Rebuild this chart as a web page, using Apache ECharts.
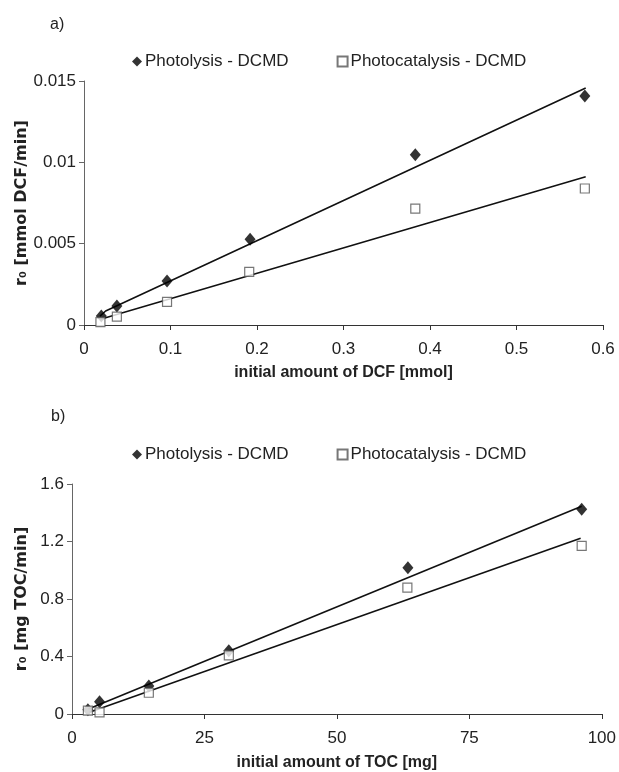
<!DOCTYPE html>
<html>
<head>
<meta charset="utf-8">
<title>r0 vs initial amount</title>
<script src="https://cdn.jsdelivr.net/npm/echarts@6/dist/echarts.min.js"></script>
<style>
  html, body { margin: 0; padding: 0; background: #fff; }
  #chart { width: 619px; height: 772px; }
</style>
</head>
<body>
<div id="chart"></div>
<script>
// ---- panel a) DCF [mmol] vs r0 [mmol DCF/min]
const dcfPhotolysis = [[0.020, 0.00055], [0.038, 0.00117], [0.096, 0.00271], [0.192, 0.00527], [0.383, 0.01047], [0.579, 0.01408]];
const dcfCatalysis = [[0.019, 0.00018], [0.038, 0.00051], [0.096, 0.00142], [0.191, 0.00326], [0.383, 0.00716], [0.579, 0.00839]];
const dcfTrendPhotolysis = [[0.0185, 0.00055], [0.025, 0.00086], [0.58, 0.01457]];
const dcfTrendCatalysis = [[0.0185, 0.00030], [0.025, 0.00045], [0.58, 0.00911]];

// ---- panel b) TOC [mg] vs r0 [mg TOC/min]
const tocPhotolysis = [[3.0, 0.03], [5.2, 0.086], [14.5, 0.195], [29.6, 0.44], [63.4, 1.018], [96.2, 1.424]];
const tocCatalysis = [[3.0, 0.023], [5.2, 0.012], [14.5, 0.148], [29.6, 0.408], [63.3, 0.879], [96.2, 1.169]];
const tocTrendPhotolysis = [[3.1, 0.035], [96.2, 1.445]];
const tocTrendCatalysis = [[3.3, 0.012], [96.0, 1.222]];

const seriesNames = ['Photolysis - DCMD', 'Photocatalysis - DCMD'];

const FONT = 'Liberation Sans, Arial, sans-serif';
const textColor = '#222';

function xAxisCfg(grid, name, max, interval, gap) {
  return {
    gridIndex: grid, type: 'value', min: 0, max: max, interval: interval,
    name: name, nameLocation: 'middle', nameGap: gap,
    nameTextStyle: { fontFamily: FONT, fontSize: 16, fontWeight: 'bold', color: textColor },
    axisLine: { onZero: false, lineStyle: { color: '#333', width: 1 } },
    axisTick: { show: true, length: 5, lineStyle: { color: '#333' } },
    axisLabel: { fontFamily: FONT, fontSize: 17, color: textColor, margin: 16 },
    splitLine: { show: false }
  };
}

function yAxisCfg(grid, name, max, interval, gap) {
  return {
    gridIndex: grid, type: 'value', min: 0, max: max, interval: interval,
    name: name, nameLocation: 'middle', nameGap: gap, nameMoveOverlap: false,
    nameTextStyle: { fontFamily: 'DejaVu Sans, ' + FONT, fontSize: 16, fontWeight: 'bold', color: textColor },
    axisLine: { show: true, lineStyle: { color: '#666', width: 1 } },
    axisTick: { show: true, length: 5, lineStyle: { color: '#666' } },
    axisLabel: { fontFamily: FONT, fontSize: 17, color: textColor, margin: 8 },
    splitLine: { show: false }
  };
}

function markers(name, data, xi, yi, isDiamond) {
  return {
    name: name, type: 'scatter', xAxisIndex: xi, yAxisIndex: yi, data: data,
    symbol: isDiamond ? 'diamond' : 'rect',
    symbolSize: isDiamond ? [11, 13] : 9,
    itemStyle: isDiamond
      ? { color: '#000' }
      : { color: '#fff', borderColor: '#555', borderWidth: 1.2 },
    z: isDiamond ? 3 : 4
  };
}

function trend(data, xi, yi) {
  return {
    type: 'line', xAxisIndex: xi, yAxisIndex: yi, data: data,
    showSymbol: false, symbol: 'none', silent: true,
    lineStyle: { color: '#111', width: 1.6 }, z: 2
  };
}

function legendCfg(top) {
  return {
    data: seriesNames, top: top, left: 127, itemGap: 48,
    itemWidth: 10, itemHeight: 10, selectedMode: false,
    textStyle: { fontFamily: FONT, fontSize: 17, color: textColor, padding: [0, 0, 0, -2] }
  };
}

const chart = echarts.init(document.getElementById('chart'));
chart.setOption({
  backgroundColor: '#fff',
  animation: false,
  title: [
    { text: 'a)', left: 45, top: 12, textStyle: { fontFamily: FONT, fontSize: 16, fontWeight: 'normal', color: textColor } },
    { text: 'b)', left: 46, top: 404, textStyle: { fontFamily: FONT, fontSize: 16, fontWeight: 'normal', color: textColor } }
  ],
  legend: [legendCfg(48), legendCfg(441)],
  grid: [
    { left: 84, right: 16, top: 81, height: 244 },
    { left: 72, right: 10, top: 484, height: 230 }
  ],
  xAxis: [
    xAxisCfg(0, 'initial amount of DCF [mmol]', 0.6, 0.1, 40),
    xAxisCfg(1, 'initial amount of TOC [mg]', 100, 25, 41)
  ],
  yAxis: [
    yAxisCfg(0, 'r\u2080 [mmol DCF/min]', 0.015, 0.005, 54),
    yAxisCfg(1, 'r\u2080 [mg TOC/min]', 1.6, 0.4, 42)
  ],
  series: [
    trend(dcfTrendPhotolysis, 0, 0),
    trend(dcfTrendCatalysis, 0, 0),
    markers(seriesNames[0], dcfPhotolysis, 0, 0, true),
    markers(seriesNames[1], dcfCatalysis, 0, 0, false),
    trend(tocTrendPhotolysis, 1, 1),
    trend(tocTrendCatalysis, 1, 1),
    markers(seriesNames[0], tocPhotolysis, 1, 1, true),
    markers(seriesNames[1], tocCatalysis, 1, 1, false)
  ]
});
</script>
</body>
</html>
